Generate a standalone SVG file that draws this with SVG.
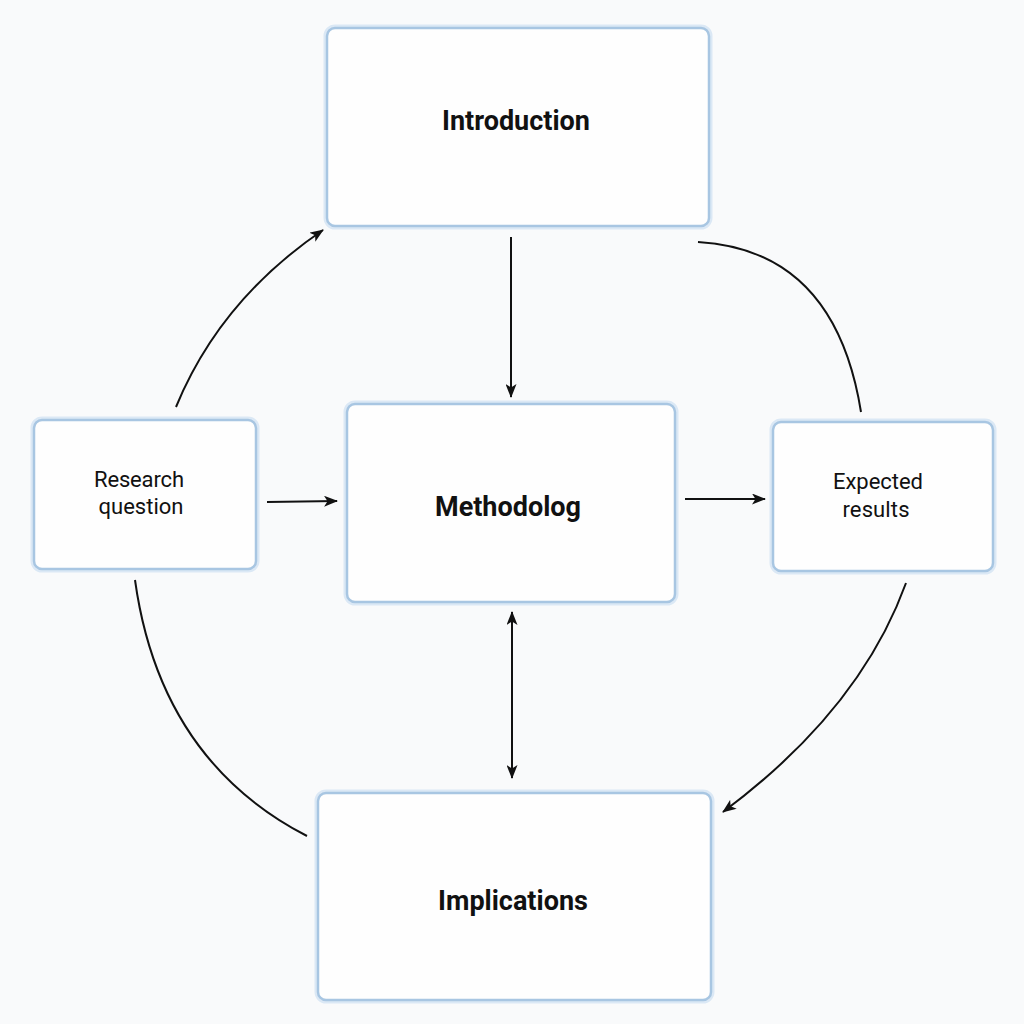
<svg xmlns="http://www.w3.org/2000/svg" width="1024" height="1024" viewBox="0 0 1024 1024">
<style>
.box{fill:#fefefe;stroke:#a8c6e2;stroke-width:2.5}
.glow{fill:none;stroke:#dbe8f5;stroke-width:7}
.t{font-family:Roboto,"Liberation Sans",sans-serif;fill:#111;text-anchor:middle}
.b{font-weight:bold;font-size:27px}
.r{font-size:22px}
.c{fill:none;stroke:#111;stroke-width:2}
</style>
<defs>
<marker id="ah" viewBox="0 0 14 11" refX="13" refY="5.5" markerWidth="14" markerHeight="11" markerUnits="userSpaceOnUse" orient="auto-start-reverse">
<path d="M0,0 L14,5.5 L0,11 L3.5,5.5 Z" fill="#111"/>
</marker>
</defs>
<rect width="1024" height="1024" fill="#f9fafb"/>
<g id="introduction">
<rect class="glow" x="327" y="28" width="382" height="198" rx="8"/>
<rect class="box" x="327" y="28" width="382" height="198" rx="8"/>
<text class="t b" x="516" y="130">Introduction</text>
</g>
<g id="research-question">
<rect class="glow" x="34" y="420" width="222" height="149" rx="8"/>
<rect class="box" x="34" y="420" width="222" height="149" rx="8"/>
<text class="t r" x="139" y="487" textLength="90">Research</text>
<text class="t r" x="141" y="514" textLength="85">question</text>
</g>
<g id="methodolog">
<rect class="glow" x="347" y="404" width="328" height="198" rx="8"/>
<rect class="box" x="347" y="404" width="328" height="198" rx="8"/>
<text class="t b" x="508" y="516">Methodolog</text>
</g>
<g id="expected-results">
<rect class="glow" x="773" y="422" width="220" height="149" rx="8"/>
<rect class="box" x="773" y="422" width="220" height="149" rx="8"/>
<text class="t r" x="878" y="489" textLength="90">Expected</text>
<text class="t r" x="876" y="517" textLength="67">results</text>
</g>
<g id="implications">
<rect class="glow" x="318" y="793" width="393" height="207" rx="8"/>
<rect class="box" x="318" y="793" width="393" height="207" rx="8"/>
<text class="t b" x="513" y="910">Implications</text>
</g>
<g id="connectors">
<path class="c" d="M176,407 Q220,300 323,230" marker-end="url(#ah)"/>
<path class="c" d="M511,237 L511,397" marker-end="url(#ah)"/>
<path class="c" d="M698,242 Q835,250 861,412"/>
<path class="c" d="M267,502 L337,501" marker-end="url(#ah)"/>
<path class="c" d="M685,499 L765,499" marker-end="url(#ah)"/>
<path class="c" d="M512,612 L512,778" marker-start="url(#ah)" marker-end="url(#ah)"/>
<path class="c" d="M906,583 Q860,710 723,812" marker-end="url(#ah)"/>
<path class="c" d="M135,580 Q160,760 307,836"/>
</g>
</svg>
